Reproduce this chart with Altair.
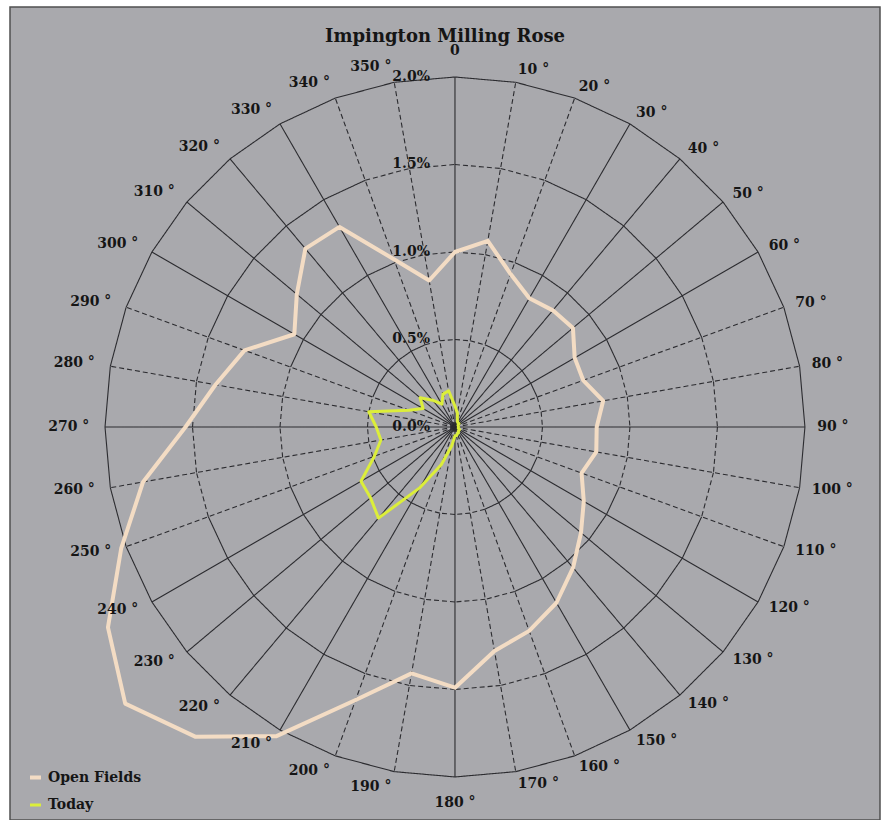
import altair as alt
import pandas as pd

# Wind rose: share of time (%) the wind blows from each 10-degree sector
angles = list(range(0, 360, 10))
open_fields = [1.00, 1.08, 0.93, 0.85, 0.87, 0.88, 0.79, 0.78, 0.86, 0.81,
               0.82, 0.77, 0.85, 0.94, 1.05, 1.16, 1.24, 1.30, 1.49, 1.43,
               1.66, 2.04, 2.31, 2.46, 2.29, 2.03, 1.81, 1.54, 1.39, 1.28,
               1.06, 1.18, 1.33, 1.32, 1.02, 0.85]
today = [0.12, 0.08, 0.04, 0.03, 0.03, 0.03, 0.02, 0.02, 0.02, 0.02,
         0.02, 0.02, 0.03, 0.03, 0.03, 0.04, 0.04, 0.05, 0.05, 0.11,
         0.23, 0.40, 0.68, 0.63, 0.62, 0.49, 0.43, 0.45, 0.50, 0.28,
         0.21, 0.26, 0.20, 0.15, 0.20, 0.21]
series_names = ["Open Fields", "Today"]
series_colors = ["#f3dcc4", "#dcee3a"]
ring_values = [0.5, 1.0, 1.5, 2.0]
ring_label_values = [0.0, 0.5, 1.0, 1.5, 2.0]
ring_labels = ["0.0%", "0.5%", "1.0%", "1.5%", "2.0%"]
angle_labels = ["0"] + [f"{a} °" for a in angles[1:]]

# ---- tables ----
rows = []
for name, vals in zip(series_names, [open_fields, today]):
    for i in range(len(angles) + 1):
        j = i % len(angles)
        rows.append({"series": name, "angle": angles[j], "value": vals[j], "order": i})
series_df = pd.DataFrame(rows)


def near_axis(direction):
    d = direction % 90
    return min(d, 90 - d) <= 20


grid_rows = []
outer = ring_values[-1]
for a in angles:
    style = "solid" if a % 90 == 0 or not near_axis(a) else "dashed"
    grid_rows.append({"a1": a, "r1": 0.0, "a2": a, "r2": outer, "style": style})
for r in ring_values:
    for a in angles:
        if r == outer:
            style = "solid"
        else:
            style = "dashed" if near_axis(a + 5) else "solid"
        grid_rows.append({"a1": a, "r1": r, "a2": a + 10, "r2": r, "style": style})
grid_df = pd.DataFrame(grid_rows)

ring_lab_df = pd.DataFrame({"value": ring_label_values, "label": ring_labels})
angle_lab_df = pd.DataFrame({"angle": angles, "label": angle_labels})

# ---- scales: 1 % = 175 px, pole at (445, 420) inside the plot ----
x_scale = alt.Scale(domain=[-2.543, 2.429], nice=False, zero=False)
y_scale = alt.Scale(domain=[-2.246, 2.4], nice=False, zero=False)
FONT = "DejaVu Serif"
INK = "#151515"


def xy(name):
    return alt.X(f"{name}:Q", scale=x_scale, axis=None)


def yy(name):
    return alt.Y(f"{name}:Q", scale=y_scale, axis=None)


grid = alt.Chart(grid_df).transform_calculate(
    gx="datum.r1 * sin(datum.a1 * PI / 180)",
    gy="datum.r1 * cos(datum.a1 * PI / 180)",
    gx2="datum.r2 * sin(datum.a2 * PI / 180)",
    gy2="datum.r2 * cos(datum.a2 * PI / 180)",
).mark_rule(color="#2c2c30", strokeWidth=1.1).encode(
    x=xy("gx"), y=yy("gy"), x2="gx2:Q", y2="gy2:Q",
    strokeDash=alt.StrokeDash("style:N", scale=alt.Scale(domain=["solid", "dashed"],
                                                         range=[[1, 0], [5, 3]]), legend=None),
)

ring_text = alt.Chart(ring_lab_df).transform_calculate(lx="0").mark_text(
    align="right", baseline="middle", dx=-25, font=FONT, fontWeight="bold",
    fontSize=14, color=INK,
).encode(x=xy("lx"), y=yy("value"), text="label:N")


def angle_text(sel, radius, align, baseline="middle"):
    return alt.Chart(angle_lab_df).transform_filter(sel).transform_calculate(
        lx=f"{radius} * sin(datum.angle * PI / 180)",
        ly=f"{radius} * cos(datum.angle * PI / 180)",
    ).mark_text(align=align, baseline=baseline, font=FONT, fontWeight="bold",
                fontSize=14, color=INK).encode(x=xy("lx"), y=yy("ly"), text="label:N")


labels_right = angle_text("datum.angle > 0 && datum.angle < 180", 2.07, "left")
labels_left = angle_text("datum.angle > 180", 2.09, "right")
labels_ends = angle_text("datum.angle == 0 || datum.angle == 180", 2.15, "center")

lines = alt.Chart(series_df).transform_calculate(
    px="datum.value * sin(datum.angle * PI / 180)",
    py="datum.value * cos(datum.angle * PI / 180)",
).mark_line(strokeJoin="round", strokeCap="round").encode(
    x=xy("px"), y=yy("py"), order="order:Q",
    color=alt.Color("series:N", scale=alt.Scale(domain=series_names, range=series_colors),
                    legend=alt.Legend(title=None, orient="none", legendX=18, legendY=763,
                                      symbolType="stroke", symbolSize=120,
                                      symbolStrokeWidth=3, labelFont=FONT,
                                      labelFontWeight="bold", labelFontSize=14,
                                      labelColor=INK, rowPadding=12, padding=0,
                                      labelOffset=5)),
    strokeWidth=alt.StrokeWidth("series:N", scale=alt.Scale(domain=series_names, range=[4, 3]),
                                legend=None),
)

chart = alt.layer(grid, lines, ring_text, labels_right, labels_left, labels_ends).properties(
    width=870, height=813,
    autosize=alt.AutoSizeParams(type="none"),
    padding={"left": 10, "top": 7, "right": 6, "bottom": 0},
    title=alt.TitleParams("Impington Milling Rose", font=FONT, fontWeight="bold",
                          fontSize=18, color=INK, anchor="middle", offset=-39),
).configure(background="white").configure_view(
    fill="#a9a9ad", stroke="#505050", strokeWidth=1.5
)

chart.save("out.html", embed_options={"renderer": "svg", "actions": False})
